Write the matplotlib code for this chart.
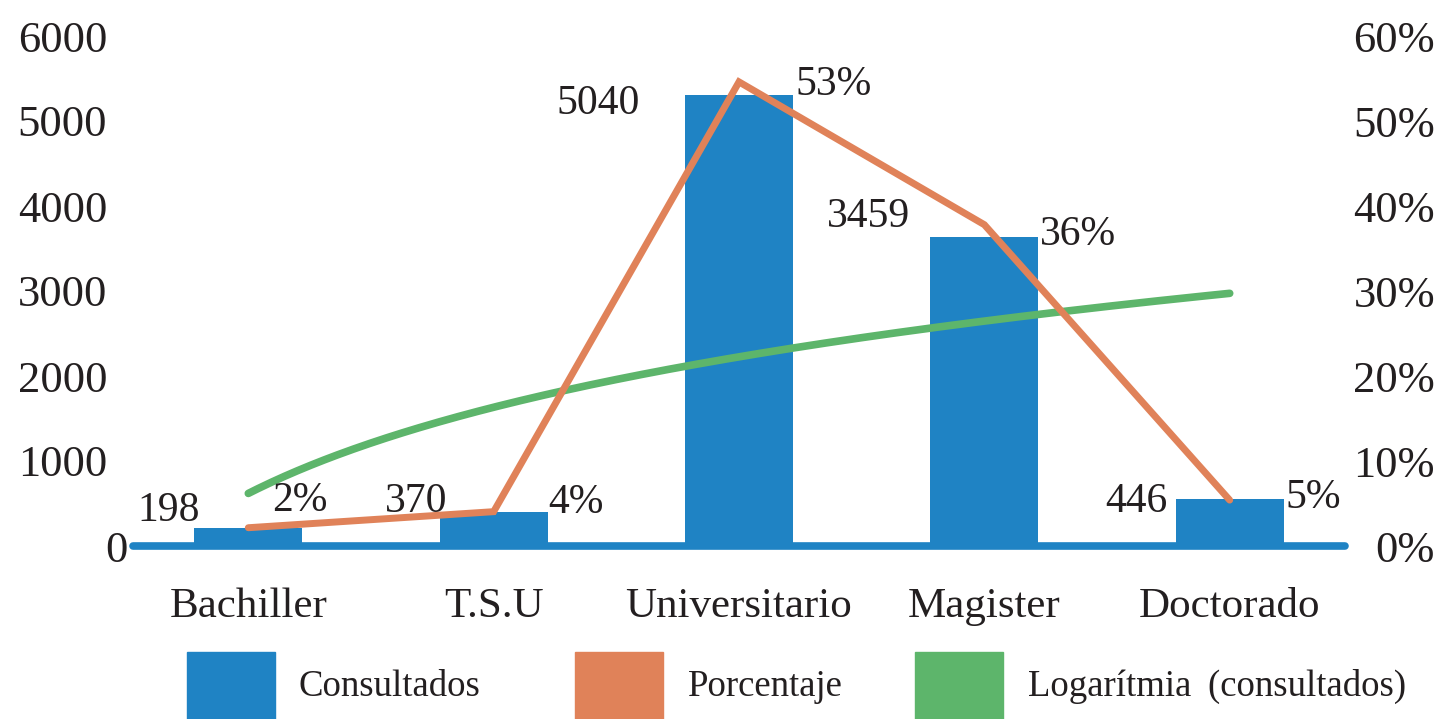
import numpy as np
import matplotlib
matplotlib.use("Agg")
import matplotlib.pyplot as plt
from matplotlib.patches import Rectangle

# ---------------- data ----------------
categories = ['Bachiller', 'T.S.U', 'Universitario', 'Magister', 'Doctorado']
consultados = [208, 396, 5306, 3632, 553]            # bar heights as drawn
consultados_labels = ['198', '370', '5040', '3459', '446']
porcentaje = [2.15, 4.04, 54.6, 37.8, 5.4]           # line values (%) as drawn
porcentaje_labels = ['2%', '4%', '53%', '36%', '5%']
left_ticks = [0, 1000, 2000, 3000, 4000, 5000, 6000]
right_ticks = [0, 10, 20, 30, 40, 50, 60]
legend_labels = ['Consultados', 'Porcentaje', 'Logarítmia \u2009(consultados)']

# ---------------- layout (label placement) ----------------
count_label_dx = [-0.197, -0.190, -0.403, -0.302, -0.255]
count_label_y = [471, 576, 5259, 3929, 573]
pct_label_dx = [0.097, 0.222, 0.229, 0.227, 0.226]
pct_label_y = [5.8, 5.56, 54.8, 37.1, 6.2]

BLUE = '#1F83C4'
ORANGE = '#E08259'
GREEN = '#5DB56B'
TXT = '#231F20'

plt.rcParams['font.family'] = ['Liberation Serif', 'DejaVu Serif']
plt.rcParams['text.color'] = TXT

W, H = 1442, 719
fig = plt.figure(figsize=(W / 100, H / 100), dpi=100)
ax = fig.add_axes([133 / W, 173 / H, 1212 / W, 510 / H])
ax2 = ax.twinx()

x = np.arange(len(categories))

# bars
ax.bar(x, consultados, width=0.44, color=BLUE, zorder=2)

# logarithmic trendline fitted on the bar series
xi = np.arange(1, len(categories) + 1)
b, a = np.polyfit(np.log(xi), consultados, 1)
xs = np.linspace(1, len(categories), 300)
ax.plot(xs - 1, a + b * np.log(xs), color=GREEN, lw=5.5,
        solid_capstyle='round', zorder=3)

# percentage line on secondary axis
ax2.plot(x, porcentaje, color=ORANGE, lw=5, solid_capstyle='round',
         solid_joinstyle='miter', zorder=3)

# axes limits / ticks
ax.set_xlim(-0.47, len(categories) - 1 + 0.47)
ax.set_ylim(0, 6000)
ax2.set_ylim(0, 60)

for s in ['top', 'right', 'left']:
    ax.spines[s].set_visible(False)
for s in ax2.spines.values():
    s.set_visible(False)
ax.spines['bottom'].set_color(BLUE)
ax.spines['bottom'].set_linewidth(5.5)
ax.spines['bottom'].set_capstyle('round')
ax.spines['bottom'].set_zorder(4)

ax.set_yticks(left_ticks)
ax.set_yticklabels([''] + [str(t) for t in left_ticks[1:]])
ax.tick_params(axis='y', length=0, pad=18.7, labelsize=32, labelcolor=TXT)
ax.annotate(str(left_ticks[0]), xy=(0, 0), xycoords='axes fraction',
            xytext=(-3.6, 0), textcoords='offset points',
            ha='right', va='center_baseline', fontsize=32, color=TXT)

ax.set_xticks(x)
ax.set_xticklabels(categories)
ax.tick_params(axis='x', length=0, pad=30, labelsize=31, labelcolor=TXT)

ax2.set_yticks(right_ticks)
ax2.set_yticklabels([f'{t}%' for t in right_ticks])
ax2.tick_params(axis='y', length=0, pad=64.8, labelsize=32, labelcolor=TXT)
for t in ax2.yaxis.get_major_ticks():
    t.label2.set_horizontalalignment('right')

# data labels
for i in range(len(categories)):
    ax.text(x[i] + count_label_dx[i], count_label_y[i], consultados_labels[i],
            ha='right', va='center_baseline', fontsize=30, color=TXT, zorder=5)
    ax2.text(x[i] + pct_label_dx[i], pct_label_y[i], porcentaje_labels[i],
             ha='left', va='center_baseline', fontsize=30, color=TXT, zorder=5)

# legend (manual, bottom)
legend_items = [(187, 298, BLUE), (575, 688, ORANGE), (915, 1028, GREEN)]
for (sx, tx, col), lab in zip(legend_items, legend_labels):
    fig.patches.append(Rectangle((sx / W, (H - 652 - 88) / H), 88 / W, 88 / H,
                                 transform=fig.transFigure, color=col,
                                 figure=fig))
    fig.text(tx / W, (H - 696) / H, lab, ha='left', va='baseline',
             fontsize=26.5, color=TXT)

fig.savefig('out.png', dpi=100)
